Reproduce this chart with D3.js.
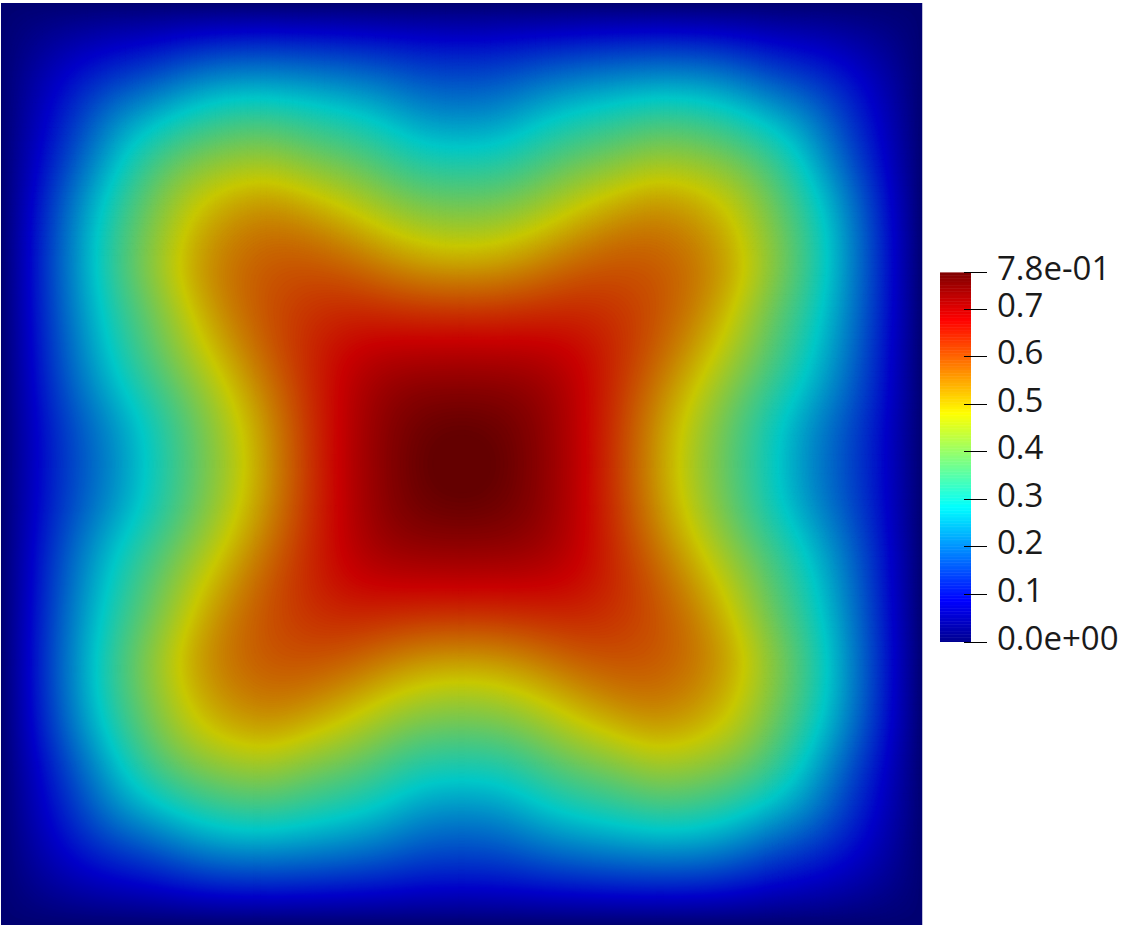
<!DOCTYPE html>
<html><head><meta charset="utf-8">
<script src="https://cdn.jsdelivr.net/npm/d3@7"></script>
<style>html,body{margin:0;padding:0;background:#fff;overflow:hidden}svg{display:block}text{font-family:"Open Sans","Noto Sans",sans-serif;font-weight:400}</style>
</head><body><svg id="c" width="1121" height="928"></svg>
<script>
// Field values: one quadrant, centre (top-left) to outer edge
const q0  = [.800,.778,.742,.695,.625,.535,.447,.372,.300,.225,.163,.096,0];
const q1  = [.778,.772,.742,.692,.628,.540,.458,.375,.302,.232,.167,.097,0];
const q2  = [.742,.742,.732,.690,.635,.565,.490,.410,.338,.275,.195,.107,0];
const q3  = [.695,.692,.690,.680,.640,.595,.530,.458,.375,.302,.212,.112,0];
const q4  = [.625,.628,.635,.640,.632,.603,.562,.490,.392,.320,.225,.118,0];
const q5  = [.535,.540,.565,.595,.603,.600,.572,.525,.432,.342,.235,.121,0];
const q6  = [.447,.458,.490,.530,.562,.572,.552,.505,.420,.337,.235,.119,0];
const q7  = [.372,.375,.410,.458,.490,.525,.505,.470,.392,.312,.215,.109,0];
const q8  = [.300,.302,.338,.375,.392,.432,.420,.392,.345,.268,.172,.088,0];
const q9  = [.225,.232,.275,.302,.320,.342,.337,.312,.268,.228,.145,.077,0];
const q10 = [.163,.167,.195,.212,.225,.235,.235,.215,.172,.145,.110,.060,0];
const q11 = [.096,.097,.107,.112,.118,.121,.119,.109,.088,.077,.060,.035,0];
const q12 = [0,0,0,0,0,0,0,0,0,0,0,0,0];
const quadrant = [q0,q1,q2,q3,q4,q5,q6,q7,q8,q9,q10,q11,q12];

const tickValues = [0.1,0.2,0.3,0.4,0.5,0.6,0.7];
const tickLabels = ["0.1","0.2","0.3","0.4","0.5","0.6","0.7"];
const rangeMin = 0, rangeMax = 0.777;
const rangeLabels = ["0.0e+00","7.8e-01"];
const jetStops = [0,.111,.365,.492,.619,.873,1];
const jetColors = [[0,0,.5625],[0,0,1],[0,1,1],[.5,1,.5],[1,1,0],[1,0,0],[.5,0,0]];

const svg = d3.select("#c");
const toCss = (c,k)=>`rgb(${c.map(v=>Math.round(v*k*255)).join(",")})`;
const scaleWith = k => d3.scaleLinear().domain(jetStops.map(s=>rangeMin+s*(rangeMax-rangeMin)))
  .range(jetColors.map(c=>toCss(c,k))).interpolate(d3.interpolateRgb).clamp(true);
const fieldColor = scaleWith(0.785), barColor = scaleWith(1);

// Lay the quadrant out over the square (odd reflection past the edge keeps the rim at 0),
// repeat each reading as a block and soften the blocks with d3.blur2 for display.
const m = quadrant.length-1, pad = 3, k = 6, coarse = 2*(m+pad)+1, n = coarse*k;
const at = (i)=>{const a=Math.abs(i-(m+pad));return a<=m?[a,1]:[2*m-a,-1];};
const grid = new Float64Array(n*n);
for(let r=0;r<n;r++)for(let c=0;c<n;c++){
  const [a,s]=at(Math.floor(r/k)),[b,t]=at(Math.floor(c/k));
  grid[r*n+c]=s*t*quadrant[a][b];
}
d3.blur2({data:grid,width:n,height:n},3);

const toSample = v => v/k-.5-pad;      // fine-grid contour coordinate → quadrant-sample index
const xs = d3.scaleLinear().domain([0,2*m]).range([1,922.5]);
const ys = d3.scaleLinear().domain([0,2*m]).range([3,925]);
const path = d3.geoPath(d3.geoTransform({point(x,y){this.stream.point(xs(toSample(x)),ys(toSample(y)));}}));
const step = rangeMax/300;
const thresholds = d3.range(step,rangeMax+step,step);
const contours = d3.contours().size([n,n]).thresholds(thresholds)(Array.from(grid));

const defs = svg.append("defs");
defs.append("clipPath").attr("id","square").append("rect")
  .attr("x",xs(0)).attr("y",ys(0)).attr("width",xs(2*m)-xs(0)).attr("height",ys(2*m)-ys(0));
const field = svg.append("g").attr("clip-path","url(#square)");
field.append("rect").attr("x",xs(0)).attr("y",ys(0))
  .attr("width",xs(2*m)-xs(0)).attr("height",ys(2*m)-ys(0)).attr("fill",fieldColor(0));
field.append("g").selectAll("path").data(contours).join("path")
  .attr("d",path).attr("fill",d=>fieldColor(d.value+step/2)).attr("stroke",d=>fieldColor(d.value+step/2)).attr("stroke-width",.4);

// colour bar
const y = d3.scaleLinear().domain([rangeMin,rangeMax]).range([641.5,272.4]);
const barRows = d3.range(rangeMin,rangeMax,rangeMax/256);
svg.append("g").selectAll("rect").data(barRows).join("rect")
  .attr("x",940).attr("width",31)
  .attr("y",d=>y(d+rangeMax/256)).attr("height",d=>y(d)-y(d+rangeMax/256)+.5)
  .attr("fill",d=>barColor(d+rangeMax/512));
const allTicks = [rangeMin,...tickValues,rangeMax];
const allLabels = [rangeLabels[0],...tickLabels,rangeLabels[1]];
svg.append("g").selectAll("line").data(allTicks).join("line")
  .attr("x1",964).attr("x2",987).attr("y1",d=>Math.round(y(d))+.5).attr("y2",d=>Math.round(y(d))+.5)
  .attr("stroke","#000").attr("stroke-width",1);
svg.append("g").selectAll("text").data(allTicks).join("text")
  .attr("x",997).attr("y",d=>y(d)+8).attr("font-size",33).attr("fill","#1a1a1a")
  .text((d,i)=>allLabels[i]);
</script></body></html>
